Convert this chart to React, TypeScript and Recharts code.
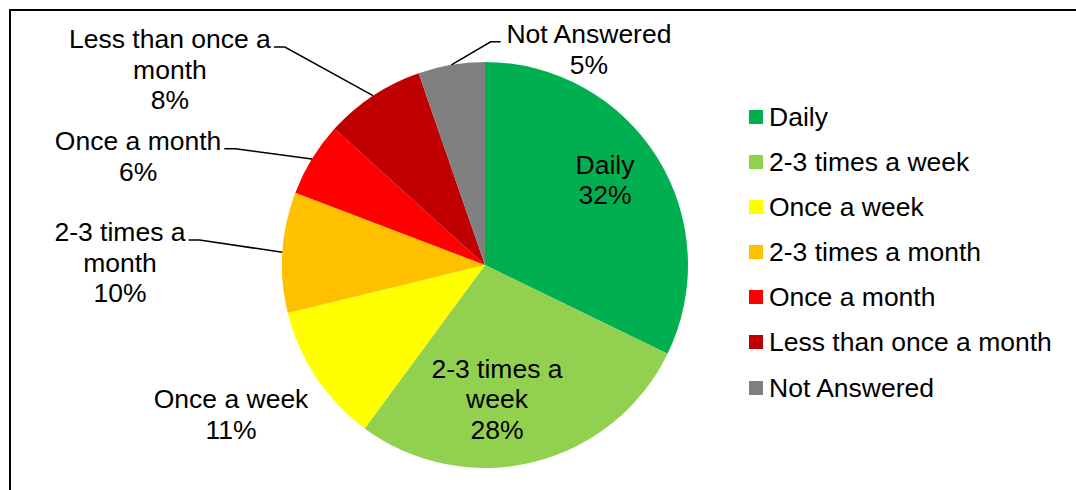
import React from 'react';
import { PieChart, Pie, Cell } from 'recharts';

const categories = [
  'Daily',
  '2-3 times a week',
  'Once a week',
  '2-3 times a month',
  'Once a month',
  'Less than once a month',
  'Not Answered',
];
const shares = [32.2, 27.9, 11.1, 9.6, 5.9, 8.0, 5.3];
const colors = ['#00B050', '#92D050', '#FFFF00', '#FFC000', '#FF0000', '#C00000', '#808080'];
const labelTexts: string[][] = [
  ['Daily'],
  ['2-3 times a', 'week'],
  ['Once a week'],
  ['2-3 times a', 'month'],
  ['Once a month'],
  ['Less than once a', 'month'],
  ['Not Answered'],
];

// label block centres, in units of the outer radius relative to the pie centre
const labelLayout = [
  { dx: 0.591, dy: -0.419, leader: false },
  { dx: 0.059, dy: 0.66, leader: false },
  { dx: -1.251, dy: 0.734, leader: false },
  { dx: -1.798, dy: -0.012, leader: true },
  { dx: -1.709, dy: -0.537, leader: true },
  { dx: -1.552, dy: -0.963, leader: true },
  { dx: 0.512, dy: -1.064, leader: true },
];

const data = categories.map((name, i) => ({ name, value: shares[i] }));

const FONT = '"Liberation Sans", Arial, sans-serif';
const FS = 26.5;
const LH = 30.5;
const RAD = Math.PI / 180;

let ctx: CanvasRenderingContext2D | null = null;
const measure = (t: string) => {
  if (!ctx) {
    const c = document.createElement('canvas');
    ctx = c.getContext('2d');
  }
  if (!ctx) return t.length * FS * 0.5;
  ctx.font = `${FS}px "Liberation Sans"`;
  return ctx.measureText(t).width;
};

const renderLabel = (props: any) => {
  const { cx, cy, midAngle, outerRadius, percent, index } = props;
  const lay = labelLayout[index];
  const R = outerRadius;
  const bx = cx + lay.dx * R;
  const by = cy + lay.dy * R;
  const lines = [...labelTexts[index], `${Math.round(percent * 100)}%`];
  const n = lines.length;
  const firstCenter = by - ((n - 1) / 2) * LH;
  let leader = null;
  if (lay.leader) {
    const ax = cx + R * Math.cos(-midAngle * RAD);
    const ay = cy + R * Math.sin(-midAngle * RAD);
    const w = measure(lines[0]);
    const ly = firstCenter + 8;
    let ex: number, elbow: number;
    if (bx < ax) {
      ex = bx + w / 2 + 3;
      elbow = ex + 11;
    } else {
      ex = bx - w / 2 - 5;
      elbow = ex - 10;
    }
    leader = (
      <polyline
        points={`${ex},${ly} ${elbow},${ly} ${ax},${ay}`}
        fill="none"
        stroke="#000"
        strokeWidth={1.5}
      />
    );
  }
  return (
    <g key={`lbl-${index}`}>
      {leader}
      {lines.map((t, i) => (
        <text
          key={i}
          x={bx}
          y={firstCenter + i * LH + 9.3}
          textAnchor="middle"
          fill="#000"
          fontFamily={FONT}
          fontSize={FS}
        >
          {t}
        </text>
      ))}
    </g>
  );
};

export default function App() {
  return (
    <div
      style={{
        position: 'absolute',
        left: 0,
        top: 0,
        width: 1076,
        height: 490,
        overflow: 'hidden',
        background: '#fff',
      }}
    >
      <div
        style={{
          position: 'absolute',
          left: 9,
          top: 9,
          width: 1200,
          height: 700,
          border: '2px solid #000',
          boxSizing: 'border-box',
        }}
      />
      <div style={{ position: 'absolute', left: 0, top: 0 }}>
        <PieChart width={1076} height={490} margin={{ top: 0, right: 0, bottom: 0, left: 0 }}>
          <Pie
            data={data}
            dataKey="value"
            nameKey="name"
            cx={485}
            cy={265}
            outerRadius={203}
            startAngle={90}
            endAngle={-270}
            stroke="none"
            isAnimationActive={false}
            labelLine={false}
            label={renderLabel}
          >
            {data.map((d, i) => (
              <Cell key={d.name} fill={colors[i]} stroke="none" />
            ))}
          </Pie>
        </PieChart>
      </div>
      <div style={{ position: 'absolute', left: 749, top: 94, fontFamily: FONT, fontSize: FS, color: '#000' }}>
        {categories.map((c, i) => (
          <div key={c} style={{ height: 45.17, display: 'flex', alignItems: 'center', whiteSpace: 'nowrap' }}>
            <span style={{ display: 'inline-block', width: 14, height: 14, background: colors[i], marginRight: 6 }} />
            <span style={{ lineHeight: '30px' }}>{c}</span>
          </div>
        ))}
      </div>
    </div>
  );
}
